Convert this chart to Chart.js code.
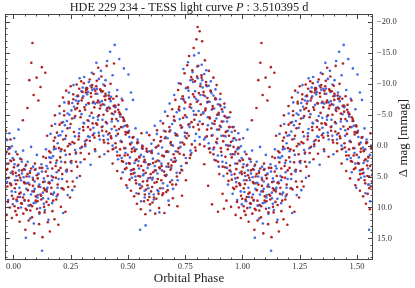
<!DOCTYPE html>
<html><head><meta charset="utf-8">
<script src="https://cdn.jsdelivr.net/npm/chart.js@4"></script>
<style>html,body{margin:0;padding:0;background:#fff;}</style>
</head><body><canvas id="c" width="415" height="288"></canvas>
<script>
const titleParts = ["HDE 229 234 - TESS light curve ", "P", " : 3.510395 d"];
const xTitle = "Orbital Phase";
const yTitle = "\u0394 mag [mmag]";
const xTickValues = [0, 0.25, 0.5, 0.75, 1.0, 1.25, 1.5];
const yTickValues = [-20, -15, -10, -5, 0, 5, 10, 15];
const xRange = [-0.037, 1.57];
const yRange = [-21.3, 18.5];

// [phase, delta mag] (phase 0..1), red series
const redPoints = [
[0.002,3.5],[0.005,9.8],[0.008,10.6],[0.011,6.2],[0.014,11.2],[0.017,1.4],[0.019,8.3],
[0.021,10.1],[0.024,4.8],[0.027,12.3],[0.031,7.6],[0.034,2.2],[0.037,9.4],
[0.041,-4.1],[0.043,11.0],[0.046,5.9],[0.049,8.8],[0.052,13.6],[0.055,3.1],[0.058,10.4],
[0.061,-6.1],[0.063,7.2],[0.066,12.1],[0.069,-10.6],[0.072,4.4],[0.075,9.6],[0.078,-13.4],
[0.081,11.6],[0.083,-16.6],[0.085,6.5],[0.088,-8.2],[0.091,14.2],[0.094,2.9],[0.097,8.9],
[0.101,-11.0],[0.103,10.2],[0.106,5.3],[0.109,-7.3],[0.112,12.7],[0.115,3.6],[0.118,-9.5],
[0.121,8.1],[0.124,-12.7],[0.127,14.8],[0.130,1.8],[0.133,6.9],[0.136,10.8],[0.139,-11.8],
[0.141,4.2],[0.144,9.1],[0.147,-1.6],[0.150,12.4],[0.153,6.0],[0.156,0.9],[0.159,13.9],
[0.161,2.7],[0.164,7.8],[0.167,-3.2],[0.170,10.6],[0.173,5.1],[0.176,-0.8],[0.179,11.9],
[0.181,-4.9],[0.184,3.3],[0.187,8.7],[0.190,-2.1],[0.193,6.3],[0.196,12.8],[0.199,0.4],
[0.201,-6.4],[0.204,1.9],[0.207,9.9],[0.210,-3.7],[0.213,4.6],[0.216,-7.8],[0.219,7.1],
[0.221,-5.6],[0.224,0.8],[0.227,10.7],[0.230,-8.9],[0.233,3.9],[0.236,-2.8],[0.239,6.7],
[0.241,-7.1],[0.244,-0.3],[0.247,8.4],[0.250,-9.6],[0.253,2.5],[0.256,-4.4],[0.259,5.8],
[0.261,-8.3],[0.264,-2.2],[0.267,6.6],[0.270,-5.9],[0.273,1.1],[0.276,-9.9],[0.279,3.4],
[0.281,-6.8],[0.284,-1.0],[0.287,-9.2],[0.290,4.9],[0.293,-4.6],[0.296,-10.4],[0.299,0.2],
[0.301,-7.7],[0.304,-3.0],[0.307,-10.1],[0.310,2.2],[0.313,-5.8],[0.316,-8.6],[0.319,-0.9],
[0.321,-9.3],[0.324,-4.1],[0.327,-6.9],[0.330,1.3],[0.333,-10.7],[0.336,-2.6],[0.339,-7.9],
[0.341,-5.3],[0.344,-9.8],[0.347,-1.7],[0.350,-11.6],[0.353,-6.2],[0.356,0.6],[0.359,-8.4],
[0.361,-3.6],[0.364,-10.5],[0.367,-7.0],[0.370,-12.6],[0.373,-4.9],[0.376,1.8],[0.379,-9.1],
[0.381,-6.5],[0.384,-11.2],[0.387,-2.4],[0.390,-8.8],[0.393,-5.0],[0.396,-0.5],[0.399,-9.7],
[0.401,-7.4],[0.404,-3.8],[0.407,-12.9],[0.410,-5.6],[0.413,0.9],[0.416,-8.1],[0.419,-2.0],
[0.421,-6.0],[0.424,-10.0],[0.427,-1.2],[0.430,-4.3],[0.433,2.9],[0.436,-7.6],[0.439,-13.3],
[0.441,-3.1],[0.444,-5.5],[0.447,0.3],[0.450,-8.0],[0.453,4.1],[0.456,-1.9],[0.459,-6.6],
[0.461,-2.7],[0.464,1.6],[0.467,-5.1],[0.470,5.3],[0.473,-0.6],[0.476,-7.3],[0.479,2.6],
[0.481,-4.0],[0.484,0.4],[0.487,3.8],[0.490,-1.8],[0.493,6.4],[0.496,-3.3],[0.499,1.5],
[0.501,-2.1],[0.504,2.8],[0.507,5.5],[0.510,-0.2],[0.513,7.3],[0.516,1.0],[0.519,3.9],
[0.521,-1.3],[0.524,4.5],[0.527,8.2],[0.530,0.7],[0.533,2.4],[0.536,6.1],[0.539,9.4],
[0.541,-0.4],[0.544,3.2],[0.547,7.8],[0.550,1.9],[0.553,5.0],[0.556,10.3],[0.559,-2.0],
[0.561,6.6],[0.564,0.1],[0.567,4.0],[0.570,9.0],[0.573,2.3],[0.576,11.1],[0.579,7.1],
[0.581,0.5],[0.584,5.7],[0.587,8.8],[0.590,3.0],[0.593,-1.7],[0.596,9.5],[0.599,4.6],
[0.601,7.4],[0.604,1.2],[0.607,9.2],[0.610,4.3],[0.613,-0.9],[0.616,6.0],[0.619,11.0],
[0.621,2.6],[0.624,8.6],[0.627,-2.5],[0.630,5.4],[0.633,0.0],[0.636,10.1],[0.639,3.7],
[0.641,6.9],[0.644,-1.4],[0.647,3.3],[0.650,8.0],[0.653,-3.6],[0.656,1.7],[0.659,10.9],
[0.661,4.8],[0.664,-2.3],[0.667,7.5],[0.670,0.9],[0.673,-4.8],[0.676,2.9],[0.679,9.6],
[0.681,-3.0],[0.684,5.9],[0.687,-0.6],[0.690,3.2],[0.693,-5.9],[0.696,8.5],[0.699,1.4],
[0.701,-4.7],[0.704,2.0],[0.707,-7.4],[0.710,6.3],[0.713,-1.8],[0.716,9.8],[0.719,-9.0],
[0.721,0.4],[0.724,-6.3],[0.727,4.4],[0.730,-10.0],[0.733,-2.9],[0.736,8.1],[0.739,-8.0],
[0.741,-4.5],[0.744,1.5],[0.747,-11.7],[0.750,-7.0],[0.753,5.6],[0.756,-1.2],[0.759,-13.0],
[0.761,-9.4],[0.764,-3.4],[0.767,-14.5],[0.770,2.0],[0.773,-6.7],[0.776,-11.1],[0.779,-0.2],
[0.781,-12.2],[0.784,-8.3],[0.787,-15.8],[0.790,-4.2],[0.793,-10.4],[0.796,0.8],[0.799,-17.2],
[0.801,-7.1],[0.804,-19.2],[0.807,-12.9],[0.810,-2.6],[0.813,-18.5],[0.816,-9.6],[0.819,-5.0],
[0.821,-11.4],[0.824,-16.9],[0.827,-3.5],[0.830,-8.7],[0.833,3.0],[0.836,-13.8],[0.839,-6.0],
[0.841,-10.3],[0.844,-1.5],[0.847,-7.7],[0.850,6.5],[0.853,-12.1],[0.856,-4.6],[0.859,1.1],
[0.861,-8.9],[0.864,-2.8],[0.867,9.5],[0.870,-6.4],[0.873,-11.0],[0.876,0.3],[0.879,-4.0],
[0.881,-7.5],[0.884,2.4],[0.887,-9.8],[0.890,-1.1],[0.893,10.7],[0.896,-5.3],[0.899,4.6],
[0.901,-3.2],[0.904,-8.4],[0.907,1.0],[0.910,-5.9],[0.913,7.8],[0.916,-0.7],[0.919,10.2],
[0.921,-6.8],[0.924,3.5],[0.927,-2.2],[0.930,8.9],[0.933,-4.5],[0.936,0.6],[0.939,5.7],
[0.941,-1.6],[0.944,4.0],[0.947,-5.4],[0.950,9.9],[0.953,1.9],[0.956,-3.0],[0.959,6.8],
[0.961,0.2],[0.964,7.0],[0.967,-2.4],[0.970,11.2],[0.973,3.8],[0.976,9.1],[0.979,5.2],
[0.981,1.3],[0.984,10.0],[0.987,-1.0],[0.990,6.4],[0.993,11.7],[0.996,4.2],[0.999,8.6]
];
// red points in the dense core of the cloud
const redCorePoints = [
[0.0015,2.3],[0.0055,6.9],[0.0095,4.4],[0.0135,8.7],[0.0175,5.6],
[0.0215,3.1],[0.0255,7.8],[0.0295,5.2],[0.0335,9.3],[0.0375,4.0],
[0.0415,8.4],[0.0455,3.8],[0.0495,6.1],[0.0535,10.2],[0.0575,5.0],
[0.0615,4.6],[0.0655,8.9],[0.0695,6.3],[0.0735,10.5],[0.0775,3.7],
[0.0815,9.8],[0.0855,5.5],[0.0895,7.4],[0.0935,3.9],[0.0975,8.2],
[0.1015,4.8],[0.1055,9.0],[0.1095,6.6],[0.1135,10.8],[0.1175,7.9],
[0.1215,8.7],[0.1255,3.6],[0.1295,5.9],[0.1335,9.9],[0.1375,7.2],
[0.1415,2.0],[0.1455,7.4],[0.1495,4.9],[0.1535,9.6],[0.1575,6.1],
[0.1615,1.1],[0.1655,6.8],[0.1695,3.7],[0.1735,8.9],[0.1775,0.2],
[0.1815,-1.3],[0.1855,5.2],[0.1895,2.4],[0.1935,7.9],[0.1975,4.0],
[0.2015,-3.4],[0.2055,3.6],[0.2095,0.6],[0.2135,6.9],[0.2175,-1.0],
[0.2215,-4.9],[0.2255,2.7],[0.2295,-1.6],[0.2335,5.8],[0.2375,0.1],
[0.2415,-6.8],[0.2455,1.4],[0.2495,-3.5],[0.2535,4.1],[0.2575,-0.6],
[0.2615,-7.5],[0.2655,-0.4],[0.2695,-4.8],[0.2735,2.6],[0.2775,-6.1],
[0.2815,-8.1],[0.2855,-1.5],[0.2895,-5.6],[0.2935,1.2],[0.2975,-7.3],
[0.3015,-8.7],[0.3055,-2.5],[0.3095,-6.2],[0.3135,-0.2],[0.3175,-9.0],
[0.3215,-9.2],[0.3255,-3.0],[0.3295,-6.8],[0.3335,-0.8],[0.3375,-8.5],
[0.3415,-9.4],[0.3455,-3.6],[0.3495,-7.1],[0.3535,-1.3],[0.3575,-8.9],
[0.3615,-9.6],[0.3655,-3.4],[0.3695,-7.3],[0.3735,-1.6],[0.3775,-6.0],
[0.3815,-8.9],[0.3855,-3.0],[0.3895,-6.7],[0.3935,-0.9],[0.3975,-8.0],
[0.4015,-8.4],[0.4055,-2.3],[0.4095,-6.1],[0.4135,-0.4],[0.4175,-7.6],
[0.4215,-7.6],[0.4255,-1.5],[0.4295,-5.2],[0.4335,0.6],[0.4375,-6.4],
[0.4415,-6.5],[0.4455,-0.4],[0.4495,-4.3],[0.4535,1.6],[0.4575,-5.8],
[0.4615,-5.4],[0.4655,0.6],[0.4695,-3.0],[0.4735,2.5],[0.4775,-4.6],
[0.4815,-4.3],[0.4855,1.6],[0.4895,-2.2],[0.4935,3.6],[0.4975,-3.1],
[0.5015,-2.2],[0.5055,2.9],[0.5095,-0.3],[0.5135,4.6],[0.5175,0.5],
[0.5215,-1.3],[0.5255,3.8],[0.5295,0.9],[0.5335,5.6],[0.5375,2.2],
[0.5415,-0.6],[0.5455,4.9],[0.5495,1.8],[0.5535,6.9],[0.5575,3.3],
[0.5615,0.4],[0.5655,5.8],[0.5695,2.6],[0.5735,7.9],[0.5775,4.4],
[0.5815,0.9],[0.5855,6.4],[0.5895,3.1],[0.5935,8.3],[0.5975,5.2],
[0.6015,1.0],[0.6055,6.7],[0.6095,2.8],[0.6135,8.4],[0.6175,4.0],
[0.6215,0.3],[0.6255,5.9],[0.6295,2.4],[0.6335,7.8],[0.6375,3.5],
[0.6415,-0.7],[0.6455,5.6],[0.6495,1.6],[0.6535,7.7],[0.6575,4.2],
[0.6615,-1.2],[0.6655,4.9],[0.6695,1.0],[0.6735,7.2],[0.6775,3.4],
[0.6815,-2.3],[0.6855,3.9],[0.6895,-0.1],[0.6935,6.3],[0.6975,2.6],
[0.7015,-4.1],[0.7055,2.6],[0.7095,-1.7],[0.7135,5.0],[0.7175,1.0],
[0.7215,-5.9],[0.7255,1.3],[0.7295,-3.3],[0.7335,3.9],[0.7375,-0.5],
[0.7415,-7.6],[0.7455,-0.2],[0.7495,-4.9],[0.7535,2.8],[0.7575,-2.0],
[0.7615,-9.4],[0.7655,-1.6],[0.7695,-6.3],[0.7735,1.5],[0.7775,-3.8],
[0.7815,-10.7],[0.7855,-3.0],[0.7895,-7.9],[0.7935,0.3],[0.7975,-5.0],
[0.8015,-11.2],[0.8055,-3.4],[0.8095,-8.5],[0.8135,-0.2],[0.8175,-6.7],
[0.8215,-11.0],[0.8255,-3.5],[0.8295,-8.2],[0.8335,0.1],[0.8375,-5.7],
[0.8415,-9.8],[0.8455,-2.6],[0.8495,-7.1],[0.8535,0.5],[0.8575,-4.4],
[0.8615,-8.8],[0.8655,-1.6],[0.8695,-6.0],[0.8735,1.4],[0.8775,-3.5],
[0.8815,-7.7],[0.8855,-0.6],[0.8895,-5.0],[0.8935,2.6],[0.8975,-2.6],
[0.9015,-6.6],[0.9055,0.4],[0.9095,-3.9],[0.9135,3.4],[0.9175,-1.6],
[0.9215,-4.8],[0.9255,1.8],[0.9295,-2.3],[0.9335,4.5],[0.9375,0.0],
[0.9415,-3.0],[0.9455,3.2],[0.9495,-0.6],[0.9535,5.5],[0.9575,1.4],
[0.9615,-1.2],[0.9655,4.6],[0.9695,1.0],[0.9735,6.6],[0.9775,2.9],
[0.9815,0.3],[0.9855,6.1],[0.9895,2.5],[0.9935,8.1],[0.9975,4.6]
];
// blue series
const bluePoints = [
[0.003,-1.2],[0.007,5.6],[0.010,1.0],[0.014,8.9],[0.018,3.3],
[0.022,-2.6],[0.026,6.8],[0.029,2.1],[0.033,10.0],[0.037,4.5],
[0.042,0.8],[0.046,7.9],[0.050,3.9],[0.054,14.9],[0.058,6.1],
[0.062,2.6],[0.066,9.7],[0.069,5.0],[0.073,11.8],[0.077,0.2],
[0.082,7.4],[0.086,3.4],[0.089,12.6],[0.093,5.8],[0.097,9.2],
[0.102,1.5],[0.106,8.0],[0.109,4.6],[0.113,11.0],[0.117,6.7],
[0.122,3.0],[0.125,17.0],[0.129,8.5],[0.133,5.3],[0.137,10.4],
[0.142,0.6],[0.146,7.0],[0.149,3.7],[0.153,12.0],[0.157,5.9],
[0.162,-1.9],[0.166,4.9],[0.169,9.3],[0.173,1.7],[0.177,7.6],
[0.182,-3.5],[0.186,2.8],[0.189,8.2],[0.193,-0.4],[0.197,5.4],
[0.202,-5.2],[0.206,0.9],[0.209,6.9],[0.213,-2.3],[0.217,10.9],
[0.222,-7.0],[0.226,-1.1],[0.229,4.1],[0.233,-4.0],[0.237,8.0],
[0.242,-8.6],[0.246,-2.9],[0.249,2.6],[0.253,-5.7],[0.257,7.2],
[0.262,-9.8],[0.266,-4.5],[0.269,0.7],[0.273,-7.3],[0.277,5.2],
[0.282,-8.0],[0.286,-2.0],[0.289,-10.9],[0.293,2.7],[0.297,-5.1],
[0.302,-9.4],[0.306,-3.7],[0.309,-11.1],[0.313,0.1],[0.317,-6.6],
[0.322,-8.3],[0.326,-1.5],[0.329,-10.3],[0.333,-4.8],[0.337,3.1],
[0.342,-11.8],[0.346,-6.9],[0.349,-2.9],[0.353,-9.2],[0.357,0.9],
[0.362,-13.4],[0.366,-8.4],[0.369,-4.2],[0.373,-10.8],[0.377,-1.0],
[0.382,-12.1],[0.386,-7.2],[0.389,-3.1],[0.393,-9.9],[0.397,1.4],
[0.402,-10.6],[0.406,-5.8],[0.409,-13.7],[0.413,-1.8],[0.417,-8.6],
[0.422,-15.2],[0.426,-7.9],[0.429,-3.9],[0.433,-11.4],[0.437,0.5],
[0.442,-16.3],[0.446,-6.4],[0.449,-2.5],[0.453,-9.0],[0.457,2.2],
[0.462,-14.0],[0.466,-4.7],[0.469,-0.8],[0.473,-7.6],[0.477,4.3],
[0.482,-12.5],[0.486,-3.2],[0.489,1.2],[0.493,-5.9],[0.497,6.8],
[0.502,-11.5],[0.506,-1.4],[0.509,2.9],[0.513,-8.6],[0.517,5.2],
[0.522,-7.4],[0.526,0.3],[0.529,4.4],[0.533,-2.8],[0.537,7.7],
[0.542,-1.0],[0.546,2.5],[0.549,6.3],[0.553,13.6],[0.557,9.0],
[0.562,0.0],[0.566,4.8],[0.569,1.8],[0.573,8.4],[0.577,12.9],
[0.582,-2.1],[0.586,3.6],[0.589,6.9],[0.593,0.9],[0.597,10.5],
[0.602,-0.3],[0.606,5.5],[0.609,2.1],[0.613,8.7],[0.617,-3.2],
[0.622,4.0],[0.626,-1.9],[0.629,7.2],[0.633,1.3],[0.637,10.8],
[0.642,-4.0],[0.646,2.9],[0.649,0.3],[0.653,6.1],[0.657,-2.4],
[0.662,-5.5],[0.666,1.0],[0.669,4.7],[0.673,-1.2],[0.677,8.9],
[0.682,-6.8],[0.686,-0.4],[0.689,3.6],[0.693,-3.5],[0.697,7.0],
[0.702,-8.2],[0.706,-2.0],[0.709,2.4],[0.713,-5.4],[0.717,5.6],
[0.722,-10.1],[0.726,-4.3],[0.729,0.2],[0.733,-7.6],[0.737,4.0],
[0.742,-12.4],[0.746,-6.0],[0.749,-1.5],[0.753,-9.3],[0.757,2.8],
[0.762,-13.5],[0.766,-7.8],[0.769,-3.0],[0.773,-10.6],[0.777,1.2],
[0.782,-11.9],[0.786,-5.6],[0.789,-14.6],[0.793,-8.8],[0.797,-1.9],
[0.802,-12.8],[0.806,-7.3],[0.809,-15.0],[0.813,-3.9],[0.817,-10.0],
[0.822,-13.1],[0.826,-9.4],[0.829,-5.2],[0.833,-11.6],[0.837,-1.3],
[0.842,-12.2],[0.846,-7.0],[0.849,-3.3],[0.853,-9.7],[0.857,0.4],
[0.862,-10.4],[0.866,-5.8],[0.869,-1.7],[0.873,-8.1],[0.877,2.3],
[0.882,-9.1],[0.886,-4.4],[0.889,-0.4],[0.893,-6.7],[0.897,3.4],
[0.902,-7.5],[0.906,-3.0],[0.909,1.6],[0.913,-5.5],[0.917,4.9],
[0.922,-6.2],[0.926,-1.5],[0.929,2.8],[0.933,-3.9],[0.937,6.3],
[0.942,-4.6],[0.946,0.0],[0.949,4.2],[0.953,-2.2],[0.957,7.8],
[0.962,-3.0],[0.966,1.4],[0.969,5.3],[0.973,-0.9],[0.977,8.8],
[0.982,-2.0],[0.986,2.4],[0.989,6.2],[0.993,0.1],[0.997,9.5]
];
// blue points in the dense core of the cloud
const blueCorePoints = [
[0.0045,3.0],[0.0085,7.5],[0.0125,4.9],[0.0165,9.0],
[0.0245,4.0],[0.0285,8.3],[0.0325,5.6],[0.0365,2.6],
[0.0445,5.1],[0.0485,8.9],[0.0525,3.3],[0.0565,7.0],
[0.0645,6.0],[0.0685,9.7],[0.0725,4.1],[0.0765,7.9],
[0.0845,5.2],[0.0885,9.3],[0.0925,7.0],[0.0965,3.8],
[0.1045,8.4],[0.1085,4.5],[0.1125,6.3],[0.1165,10.1],
[0.1245,4.2],[0.1285,7.6],[0.1325,9.4],[0.1365,5.8],
[0.1445,3.3],[0.1485,6.8],[0.1525,8.6],[0.1565,1.9],
[0.1645,2.0],[0.1685,5.6],[0.1725,7.9],[0.1765,0.6],
[0.1845,0.5],[0.1885,4.3],[0.1925,6.8],[0.1965,-1.6],
[0.2045,-1.7],[0.2085,2.6],[0.2125,5.4],[0.2165,-3.8],
[0.2245,-3.3],[0.2285,1.5],[0.2325,4.2],[0.2365,-5.2],
[0.2445,-5.0],[0.2485,-0.2],[0.2525,2.8],[0.2565,-6.9],
[0.2645,-6.3],[0.2685,-1.5],[0.2725,1.3],[0.2765,-8.0],
[0.2845,-7.2],[0.2885,-2.7],[0.2925,0.4],[0.2965,-8.8],
[0.3045,-8.0],[0.3085,-3.6],[0.3125,-0.7],[0.3165,-9.3],
[0.3245,-8.7],[0.3285,-4.0],[0.3325,-1.4],[0.3365,-9.7],
[0.3445,-9.0],[0.3485,-4.5],[0.3525,-2.0],[0.3565,-6.8],
[0.3645,-9.2],[0.3685,-4.7],[0.3725,-2.1],[0.3765,-7.0],
[0.3845,-8.7],[0.3885,-4.2],[0.3925,-1.6],[0.3965,-6.6],
[0.4045,-8.1],[0.4085,-3.6],[0.4125,-1.0],[0.4165,-6.2],
[0.4245,-7.2],[0.4285,-2.7],[0.4325,0.0],[0.4365,-5.1],
[0.4445,-6.2],[0.4485,-1.6],[0.4525,1.0],[0.4565,-4.0],
[0.4645,-5.1],[0.4685,-0.7],[0.4725,2.0],[0.4765,-3.0],
[0.4845,-4.0],[0.4885,0.4],[0.4925,2.9],[0.4965,-2.1],
[0.5045,-2.4],[0.5085,1.9],[0.5125,4.0],[0.5165,-0.5],
[0.5245,-1.4],[0.5285,2.8],[0.5325,5.0],[0.5365,0.6],
[0.5445,-0.5],[0.5485,3.7],[0.5525,6.3],[0.5565,1.5],
[0.5645,0.5],[0.5685,4.6],[0.5725,7.3],[0.5765,2.7],
[0.5845,1.0],[0.5885,5.3],[0.5925,7.8],[0.5965,3.0],
[0.6045,0.8],[0.6085,5.2],[0.6125,7.9],[0.6165,3.3],
[0.6245,0.2],[0.6285,4.5],[0.6325,7.4],[0.6365,2.5],
[0.6445,-0.8],[0.6485,4.0],[0.6525,6.9],[0.6565,1.7],
[0.6645,-1.4],[0.6685,3.4],[0.6725,6.5],[0.6765,1.0],
[0.6845,-2.5],[0.6885,2.3],[0.6925,5.6],[0.6965,0.0],
[0.7045,-4.0],[0.7085,0.9],[0.7125,4.4],[0.7165,-1.6],
[0.7245,-5.7],[0.7285,-0.5],[0.7325,3.3],[0.7365,-3.0],
[0.7445,-7.3],[0.7485,-2.1],[0.7525,2.0],[0.7565,-4.6],
[0.7645,-8.9],[0.7685,-3.5],[0.7725,0.8],[0.7765,-6.1],
[0.7845,-10.3],[0.7885,-5.0],[0.7925,-0.8],[0.7965,-7.6],
[0.8045,-10.9],[0.8085,-5.6],[0.8125,-1.4],[0.8165,-8.2],
[0.8245,-10.6],[0.8285,-5.4],[0.8325,-1.0],[0.8365,-8.0],
[0.8445,-9.6],[0.8485,-4.6],[0.8525,-0.4],[0.8565,-7.1],
[0.8645,-8.5],[0.8685,-3.6],[0.8725,0.6],[0.8765,-6.0],
[0.8845,-7.5],[0.8885,-2.6],[0.8925,1.6],[0.8965,-5.0],
[0.9045,-6.4],[0.9085,-1.6],[0.9125,2.6],[0.9165,-3.9],
[0.9245,-4.7],[0.9285,-0.1],[0.9325,3.6],[0.9365,-2.4],
[0.9445,-3.0],[0.9485,1.4],[0.9525,4.7],[0.9565,-0.8],
[0.9645,-1.2],[0.9685,2.9],[0.9725,5.9],[0.9765,0.6],
[0.9845,0.4],[0.9885,4.4],[0.9925,7.4],[0.9965,2.0]
];

// the phase-folded curve is shown over more than one cycle
function fold(pts){
  const out = [];
  pts.forEach(([p,m]) => {
    out.push({x:p, y:m});
    if (p + 1 <= xRange[1]) out.push({x:p+1, y:m});
    if (p - 1 >= xRange[0]) out.push({x:p-1, y:m});
  });
  return out;
}

const SERIF = "'Liberation Serif', 'DejaVu Serif', serif";
const fmtY = v => (v < 0 ? "\u2212" : "") + Math.abs(v).toFixed(1);

const framePlugin = {
  id: 'frame',
  afterDatasetsDraw(chart){
    const {ctx, chartArea:a, scales:{x, y}} = chart;
    ctx.save();
    ctx.strokeStyle = '#444';
    ctx.lineWidth = 1;
    ctx.strokeRect(a.left+0.5, a.top+0.5, a.right-a.left-1, a.bottom-a.top-1);
    ctx.beginPath();
    const major = 5, minor = 2.5;
    for (let k = Math.ceil(xRange[0]/0.05); k*0.05 <= xRange[1]; k++){
      const v = k*0.05;
      const px = Math.round(x.getPixelForValue(v)) + 0.5;
      const isMajor = xTickValues.some(t => Math.abs(t - v) < 1e-6);
      const L = isMajor ? major : minor;
      ctx.moveTo(px, a.bottom); ctx.lineTo(px, a.bottom - L);
      ctx.moveTo(px, a.top); ctx.lineTo(px, a.top + L);
    }
    for (let v = Math.ceil(yRange[0]); v <= yRange[1]; v++){
      const py = Math.round(y.getPixelForValue(v)) + 0.5;
      const isMajor = yTickValues.includes(v);
      const L = isMajor ? major : minor;
      ctx.moveTo(a.left, py); ctx.lineTo(a.left + L, py);
      ctx.moveTo(a.right, py); ctx.lineTo(a.right - L, py);
    }
    ctx.stroke();
    ctx.restore();
  },
  afterDraw(chart){
    const {ctx, chartArea:a} = chart;
    ctx.save();
    ctx.fillStyle = '#222';
    ctx.textBaseline = 'middle';
    const reg = "12.3px " + SERIF, ita = "italic 12.3px " + SERIF;
    const fonts = [reg, ita, reg];
    const widths = titleParts.map((t,i) => { ctx.font = fonts[i]; return ctx.measureText(t).width; });
    const total = widths.reduce((s,w)=>s+w,0);
    let cx = (a.left + a.right)/2 - total/2;
    titleParts.forEach((t,i) => { ctx.font = fonts[i]; ctx.textAlign='left'; ctx.fillText(t, cx, 8); cx += widths[i]; });
    ctx.font = "13px " + SERIF;
    ctx.translate(404, (a.top + a.bottom)/2 + 1);
    ctx.rotate(-Math.PI/2);
    ctx.textAlign = 'center';
    ctx.fillText(yTitle, 0, 0);
    ctx.restore();
  }
};

new Chart(document.getElementById('c'), {
  type: 'scatter',
  data: {
    datasets: [
      {label:'red', data: fold(redPoints.concat(redCorePoints)), backgroundColor:'#b22222', borderWidth:0, pointRadius:1.3},
      {label:'blue', data: fold(bluePoints.concat(blueCorePoints)), backgroundColor:'#4169e1', borderWidth:0, pointRadius:1.3}
    ]
  },
  options: {
    responsive:false, animation:false, devicePixelRatio:1,
    layout:{padding:{left:5, top:14, right:0, bottom:0}},
    plugins:{legend:{display:false}, tooltip:{enabled:false}, title:{display:false}},
    scales:{
      x:{type:'linear', position:'bottom', min:xRange[0], max:xRange[1],
         grid:{display:false, drawTicks:false}, border:{display:false},
         afterBuildTicks: s => { s.ticks = xTickValues.map(v => ({value:v})); },
         afterFit: s => { s.height = 28; },
         ticks:{font:{family:SERIF, size:8.5}, color:'#333', padding:2, maxRotation:0,
                callback: v => v.toFixed(2)},
         title:{display:true, text:xTitle, font:{family:SERIF, size:13}, color:'#222', padding:{top:0, bottom:2}}},
      y:{type:'linear', position:'right', reverse:true, min:yRange[0], max:yRange[1],
         grid:{display:false, drawTicks:false}, border:{display:false},
         afterBuildTicks: s => { s.ticks = yTickValues.map(v => ({value:v})); },
         afterFit: s => { s.width = 42; },
         ticks:{font:{family:SERIF, size:8.5}, color:'#333', padding:4, callback: v => fmtY(v)}}
    }
  },
  plugins:[framePlugin]
});
</script></body></html>
